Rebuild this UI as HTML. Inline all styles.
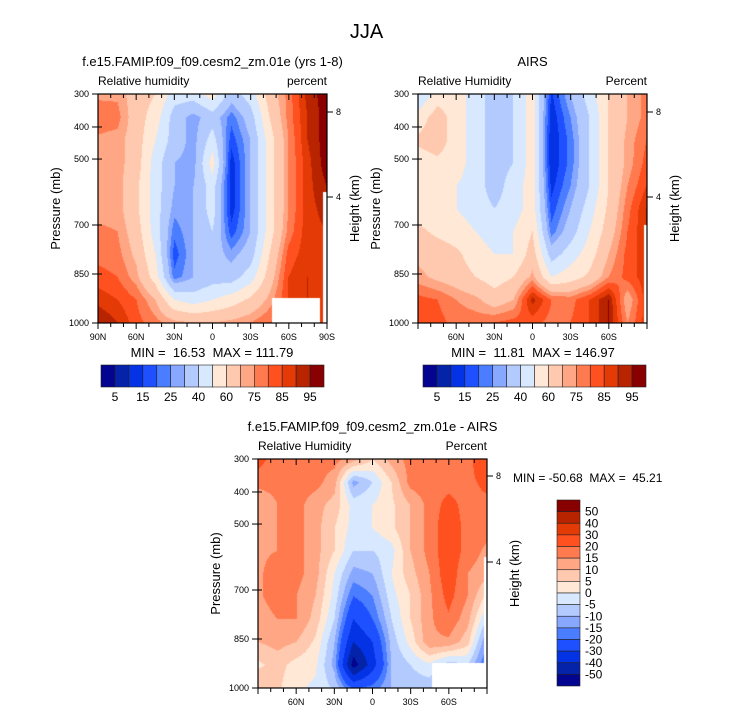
<!DOCTYPE html>
<html><head><meta charset="utf-8"><style>
body{margin:0;background:#fff;width:733px;height:712px;overflow:hidden;position:relative;font-family:"Liberation Sans",sans-serif;color:#000}
.t{position:absolute;white-space:nowrap;line-height:1}
canvas{position:absolute}
svg{position:absolute;left:0;top:0}
</style></head><body>
<div class="t" style="left:0;width:733px;text-align:center;top:22px;font-size:20px">JJA</div>
<div id="root"></div>
<svg id="ov" width="733" height="712"></svg>
<script>
// ---- data ----
const colors=["#03048f","#0423a8","#0433e6","#1f50ff","#4a7dff","#88a8ff","#b3caff","#d7e8ff","#ffe8d6","#ffc9b0","#ffa785","#ff7a4f","#ff5020","#e43a05","#b82300","#880000"];
const rhLevels=[5,10,15,20,25,30,40,50,60,70,75,80,85,90,95];
const diffLevels=[-50,-40,-30,-20,-15,-10,-5,0,5,10,15,20,30,40,50];
const rhLabels=["5","15","25","40","60","75","85","95"];
const diffLabels=["50","40","30","20","15","10","5","0","-5","-10","-15","-20","-30","-40","-50"];
const pressTicks=["300","400","500","700","850","1000"];
const latLabels=["90N","60N","30N","0","30S","60S","90S"];
const modelRH=[
[74,74,65,60,45,45,55,35,45,65,77,92,98],
[78,77,65,55,35,27,35,22,35,60,77,90,98],
[74,73,65,50,35,27,45,17,30,55,75,90,98],
[74,73,65,45,30,27,55,12,30,55,75,88,98],
[73,73,62,45,30,30,45,12,30,55,75,88,95],
[73,73,62,45,27,30,45,12,30,55,75,88,92],
[76,75,65,45,22,30,40,17,30,55,77,88,90],
[78,77,68,50,17,30,35,27,35,60,82,88,85],
[82,80,72,55,22,30,35,35,45,65,85,90,85],
[88,85,80,70,50,45,50,55,62,72,85,90,85],
[95,90,82,77,72,70,70,72,75,80,85,85,85]];
const airsRH=[
[40,55,55,45,35,40,55,14,30,45,60,70,77],
[55,65,55,45,35,40,55,11,25,40,60,70,77],
[62,65,55,45,35,40,55,10,22,40,60,72,80],
[55,58,55,45,35,40,55,10,22,40,60,72,82],
[55,55,50,45,35,45,55,13,25,40,60,75,85],
[55,55,50,45,40,45,55,17,30,45,62,78,90],
[62,58,55,50,45,50,60,22,35,50,65,80,90],
[68,65,62,55,50,50,65,35,45,55,70,82,88],
[72,68,65,60,55,60,72,50,55,62,75,82,88],
[82,80,75,72,65,70,92,80,78,85,95,70,88],
[82,82,78,78,80,82,82,78,80,85,95,75,88]];
const diffRH=[
[22,17,17,17,17,12,5,12,17,17,17,17,28],
[17,17,17,17,12,-12,-5,5,17,18,18,18,22],
[10,15,17,12,8,-2,0,4,10,17,22,18,18],
[14,15,17,12,5,-2,0,4,10,17,24,18,17],
[14,15,17,12,5,-5,-5,-2,10,17,24,18,14],
[14,18,17,12,0,-12,-10,0,8,15,24,15,12],
[14,18,15,10,-2,-20,-15,-2,5,14,22,15,4],
[12,15,15,8,-5,-30,-20,-5,5,14,19,12,-5],
[10,12,10,4,-10,-40,-30,-8,2,14,14,7,-15],
[4,7,3,1,-12,-55,-35,-10,-5,-1,-8,-5,-20],
[10,6,1,-1,-6,-22,-18,-10,-8,-8,-18,-8,-15]];

const NS="http://www.w3.org/2000/svg";
const ov=document.getElementById('ov');
const root=document.getElementById('root');
function el(tag,attrs,parent){const e=document.createElementNS(NS,tag);for(const k in attrs)e.setAttribute(k,attrs[k]);(parent||ov).appendChild(e);return e;}
function txt(s,x,y,size,anchor,name,rot){const t=el('text',{x:x,y:y,'font-size':size,'text-anchor':anchor||'middle','font-family':'Liberation Sans, sans-serif'});t.setAttribute('xml:space','preserve');t.style.whiteSpace='pre';t.textContent=s;if(rot)t.setAttribute('transform','rotate(-90 '+x+' '+y+')');


return t;}
function idx(v,levels){let i=0;while(i<levels.length&&v>=levels[i])i++;return i;}
const presFrac=[0,0.144,0.284,0.572,0.786,1];

function panel(p){
  const W=229,H=229;
  const c=document.createElement('canvas');c.width=W;c.height=H;c.style.left=p.x+'px';c.style.top=p.y+'px';
  
  
  root.appendChild(c);
  const ctx=c.getContext('2d');const img=ctx.createImageData(W,H);
  const rgb=colors.map(h=>[parseInt(h.substr(1,2),16),parseInt(h.substr(3,2),16),parseInt(h.substr(5,2),16)]);
  const g=p.data,R=g.length-1,C=g[0].length-1;
  for(let y=0;y<H;y++)for(let x=0;x<W;x++){
    const fy=y/(H-1)*R,fx=x/(W-1)*C;const i0=Math.min(R-1,Math.floor(fy)),j0=Math.min(C-1,Math.floor(fx));
    const ty=fy-i0,tx=fx-j0;
    const v=(g[i0][j0]*(1-tx)+g[i0][j0+1]*tx)*(1-ty)+(g[i0+1][j0]*(1-tx)+g[i0+1][j0+1]*tx)*ty;
    const col=rgb[idx(v,p.levels)];const o=(y*W+x)*4;img.data[o]=col[0];img.data[o+1]=col[1];img.data[o+2]=col[2];img.data[o+3]=255;}
  ctx.putImageData(img,0,0);
  ctx.fillStyle='#fff';
  for(const m of p.masks)ctx.fillRect(m[0],m[1],m[2],m[3]);
  const x0=p.x,y0=p.y;
  el('rect',{x:x0,y:y0,width:W,height:H,fill:'none',stroke:'#000','stroke-width':1.2});
  presFrac.forEach((f,i)=>{const yy=y0+f*H;el('line',{x1:x0-6,y1:yy,x2:x0+4,y2:yy,stroke:'#000'});txt(pressTicks[i],x0-9,yy+3,9,'end','pressure-tick-'+pressTicks[i]);});
  for(let k=0;k<=18;k++){const xx=x0+k/18*W;const maj=k%3==0;
    el('line',{x1:xx,y1:y0+H,x2:xx,y2:y0+H+(maj?6:4),stroke:'#000'});
    el('line',{x1:xx,y1:y0,x2:xx,y2:y0+(maj?6:4),stroke:'#000'});}
  latLabels.forEach((s,k)=>{if(!p.ends&&(k==0||k==6))return;txt(s,x0+k/6*W,y0+H+17,9,'middle','lat-label-'+s);});
  [[8,p.h8],[4,p.h4]].forEach(h=>{el('line',{x1:x0+W,y1:h[1],x2:x0+W+6,y2:h[1],stroke:'#000'});txt(String(h[0]),x0+W+9,h[1]+3,9,'start','height-tick-'+h[0]);});
  txt('Pressure (mb)',p.px,y0+H/2,13,'middle','pressure-axis-title',true);
  txt('Height (km)',p.hx,y0+H/2,13,'middle','height-axis-title',true);
  txt(p.title,x0+W/2,y0-28,13,'middle','panel-title');
  txt(p.left,x0,y0-9,12,'start','variable-label');
  txt(p.right,x0+W,y0-9,12,'end','units-label');
}
panel({name:'model',x:98,y:94,data:modelRH,levels:rhLevels,masks:[[174,204,48,25],[225,98,4,131]],ends:true,h8:112,h4:197,px:60,hx:359,
  title:'f.e15.FAMIP.f09_f09.cesm2_zm.01e (yrs 1-8)',left:'Relative humidity',right:'percent'});
panel({name:'airs',x:418,y:94,data:airsRH,levels:rhLevels,masks:[[226,131,3,98]],ends:false,h8:112,h4:197,px:380,hx:679,
  title:'AIRS',left:'Relative Humidity',right:'Percent'});
panel({name:'diff',x:258,y:459,data:diffRH,levels:diffLevels,masks:[[174,204,56,25],[226,98,3,131]],ends:false,h8:476,h4:562,px:220,hx:519,
  title:'f.e15.FAMIP.f09_f09.cesm2_zm.01e - AIRS',left:'Relative Humidity',right:'Percent'});

txt('MIN =  16.53  MAX = 111.79',212,357,13,'middle','model-min-max');
txt('MIN =  11.81  MAX = 146.97',533,357,13,'middle','airs-min-max');
txt('MIN = -50.68  MAX =  45.21',513,482,12,'start','diff-min-max');

[[101,'model'],[423,'airs']].forEach(cb=>{
  const bw=223/16;
  colors.forEach((c,i)=>{const r=el('rect',{x:cb[0]+i*bw,y:365,width:bw,height:22,fill:c,stroke:'#222','stroke-width':0.6});
    
    });
  rhLabels.forEach((s,k)=>txt(s,cb[0]+(2*k+1)*bw,401,12,'middle','colorbar-label-'+s));
});
{const bh=186/16;
 colors.slice().reverse().forEach((c,i)=>{const r=el('rect',{x:557,y:500+i*bh,width:23,height:bh,fill:c,stroke:'#222','stroke-width':0.6});
   
   });
 diffLabels.forEach((s,k)=>txt(s,585,500+(k+1)*bh+4,12,'start','diff-colorbar-label'));}
</script>
</body></html>
